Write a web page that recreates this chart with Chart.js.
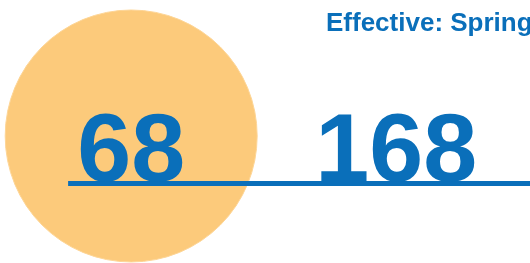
<!DOCTYPE html>
<html>
<head>
<meta charset="utf-8">
<script src="https://cdn.jsdelivr.net/npm/chart.js@4/dist/chart.umd.min.js"></script>
<style>
    html, body { margin: 0; padding: 0; background: #ffffff; }
    #wrap { width: 530px; height: 263px; position: relative; }
</style>
</head>
<body>
<div id="wrap"><canvas id="chart"></canvas></div>
<script>
// ========================================
// DATA
// ========================================
const categories = ['Now', 'Spring'];
const values = [68, 168];
const titleText = 'Effective: Spring';
const highlighted = [true, false];   // circle behind the first figure

// ========================================
// LAYOUT / STYLE
// ========================================
const BLUE = '#0a6fba';
const ORANGE = '#fcca7b';
const LAYOUT = {
    circleY: 136,
    circleR: 126,
    ruleY: 183.5,
    ruleFrom: -0.238,
    ruleTo: 1.52,
    numberBaseline: 181,
    titleX: 326,
    titleBaseline: 31
};

// circle datasets built from the categories flagged above
const bubbleData = categories
    .map((c, i) => ({ x: i, y: LAYOUT.circleY, r: LAYOUT.circleR, show: highlighted[i] }))
    .filter(p => p.show);

const ruleData = [
    { x: LAYOUT.ruleFrom, y: LAYOUT.ruleY },
    { x: LAYOUT.ruleTo, y: LAYOUT.ruleY }
];

// big figures + title
const figuresPlugin = {
    id: 'figures',
    afterDatasetsDraw(chart) {
        const ctx = chart.ctx;
        const xs = chart.scales.x;
        const ys = chart.scales.y;
        ctx.save();
        ctx.fillStyle = BLUE;
        ctx.textAlign = 'center';
        ctx.textBaseline = 'alphabetic';
        ctx.font = 'bold 97px "Liberation Sans", Arial, sans-serif';
        values.forEach((v, i) => {
            ctx.fillText(String(v), xs.getPixelForValue(i), ys.getPixelForValue(LAYOUT.numberBaseline));
        });
        ctx.textAlign = 'left';
        ctx.font = 'bold 26px "Liberation Sans", Arial, sans-serif';
        ctx.fillText(titleText, LAYOUT.titleX, LAYOUT.titleBaseline);
        ctx.restore();
    }
};

new Chart(document.getElementById('chart'), {
    data: {
        datasets: [
            {
                type: 'bubble',
                label: 'highlight',
                data: bubbleData,
                backgroundColor: ORANGE,
                borderColor: '#fdd596',
                borderWidth: 1,
                hoverRadius: 0,
                order: 2,
                clip: false
            },
            {
                type: 'line',
                label: 'rule',
                data: ruleData,
                borderColor: BLUE,
                borderWidth: 5,
                pointRadius: 0,
                order: 1,
                clip: false
            }
        ]
    },
    options: {
        responsive: true,
        maintainAspectRatio: false,
        animation: false,
        layout: { autoPadding: false, padding: 0 },
        scales: {
            x: { type: 'linear', display: false, min: -0.495, max: 1.505 },
            y: { type: 'linear', display: false, min: 0, max: 263, reverse: true }
        },
        plugins: {
            legend: { display: false },
            tooltip: { enabled: false }
        }
    },
    plugins: [figuresPlugin]
});
</script>
</body>
</html>
